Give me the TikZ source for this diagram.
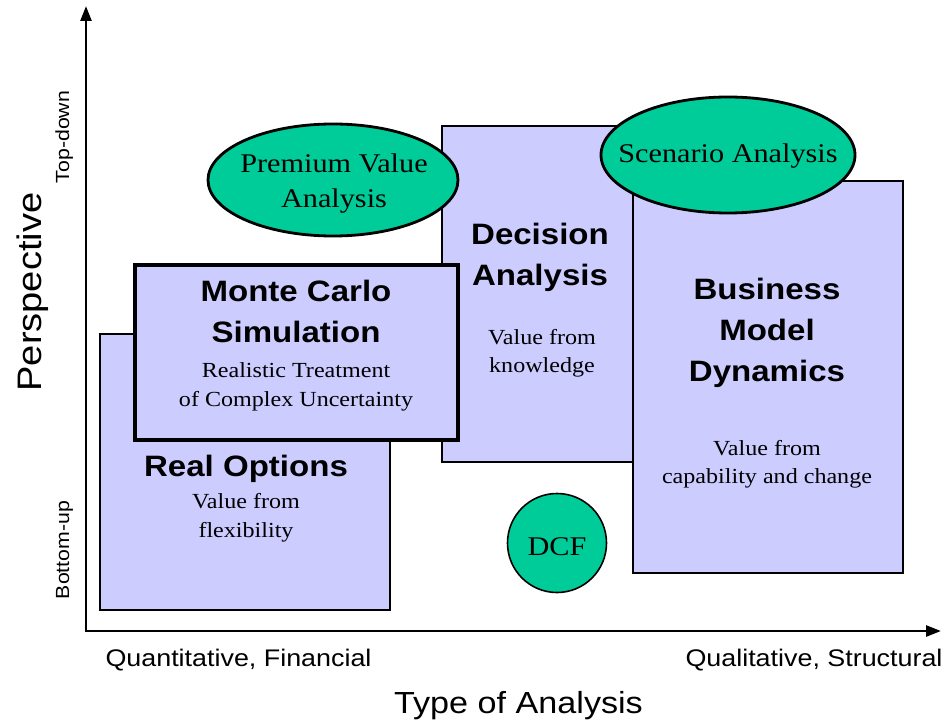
\documentclass[tikz,border=0pt]{standalone}
\usepackage{fontspec}
\setmainfont{Liberation Serif}[FakeStretch=1.12]
\setsansfont{Liberation Sans}[FakeStretch=1.12]
\usetikzlibrary{arrows.meta,shapes.geometric}
\definecolor{boxfill}{RGB}{204,204,255}
\definecolor{ovalfill}{RGB}{0,204,153}
\newcommand\fsz[1]{\fontsize{#1}{#1}\selectfont}
\tikzset{
  box/.style={draw=black,line width=2.8pt,fill=boxfill,rectangle,inner sep=0pt},
  oval/.style={draw=black,line width=2.8pt,fill=ovalfill,ellipse,inner sep=0pt},
  axis/.style={line width=2.6pt,-{Triangle[length=15pt,width=11pt]}},
  title/.style={anchor=base,inner sep=0pt,font=\sffamily\bfseries\fsz{29.5}},
  body/.style={anchor=base,inner sep=0pt,font=\rmfamily\fsz{21.5}},
  ovaltext/.style={anchor=base,inner sep=0pt,font=\rmfamily\fsz{27}},
  axtext/.style={anchor=base,inner sep=0pt,font=\sffamily\fsz{24}},
}
\begin{document}
\begin{tikzpicture}[x=1pt,y=-1pt]
\useasboundingbox[fill=white] (0,0) rectangle (947,727);
% axes
\coordinate (o) at (86,631);
\coordinate (ytop) at (86,6);
\coordinate (xend) at (941,631);
\coordinate (o2) at (84.7,631);
\draw[axis] (o) -- (ytop);
\draw[axis] (o2) -- (xend);
% boxes
\node[box,minimum width=290pt,minimum height=276pt] (ro) at (245,472) {};
\node[box,minimum width=192pt,minimum height=336pt] (da) at (538,294) {};
\node[box,line width=3.4pt,minimum width=323pt,minimum height=175pt] (mc) at (296.5,352.5) {};
\node[box,minimum width=270pt,minimum height=392pt] (bm) at (768,377) {};
% ovals
\node[oval,minimum width=250pt,minimum height=112pt] (pv) at (333,180) {};
\node[oval,minimum width=254pt,minimum height=116pt] (sa) at (728,155) {};
\node[oval,line width=1.6pt,minimum width=99pt,minimum height=99pt] (dcf) at (557,543) {};
% texts
\node[title] (t1) at (296,301) {Monte Carlo};
\node[title] (t2) at (296,342) {Simulation};
\node[body] (t3) at (296,377) {Realistic Treatment};
\node[body] (t4) at (296,406) {of Complex Uncertainty};
\node[title] (t5) at (246,476) {Real Options};
\node[body] (t6) at (246,508) {Value from};
\node[body] (t7) at (246,537) {flexibility};
\node[title] (t8) at (540,245) {Decision};
\node[title] (t9) at (540,285) {Analysis};
\node[body] (t10) at (542,344) {Value from};
\node[body] (t11) at (542,372) {knowledge};
\node[title] (t12) at (767,299) {Business};
\node[title] (t13) at (767,340) {Model};
\node[title] (t14) at (767,381) {Dynamics};
\node[body] (t15) at (767,455) {Value from};
\node[body] (t16) at (767,483) {capability and change};
\node[ovaltext] (t17) at (334,173) {Premium Value};
\node[ovaltext] (t18) at (334,208) {Analysis};
\node[ovaltext] (t19) at (728,163) {Scenario Analysis};
\node[ovaltext] (t20) at (557,555) {DCF};
% axis labels
\node[axtext] (q1) at (238.5,666) {Quantitative, Financial};
\node[axtext] (q2) at (814,666) {Qualitative, Structural};
\node[axtext,font=\sffamily\fsz{30.5}] (q3) at (518.5,713) {Type of Analysis};
\node[axtext,font=\sffamily\fsz{34}, rotate=90] (p1) at (41,292) {Perspective};
\node[axtext,font=\sffamily\fsz{19}, rotate=90] (p2) at (69,137) {Top-down};
\node[axtext,font=\sffamily\fsz{19}, rotate=90] (p3) at (69,550) {Bottom-up};
\end{tikzpicture}
\end{document}
